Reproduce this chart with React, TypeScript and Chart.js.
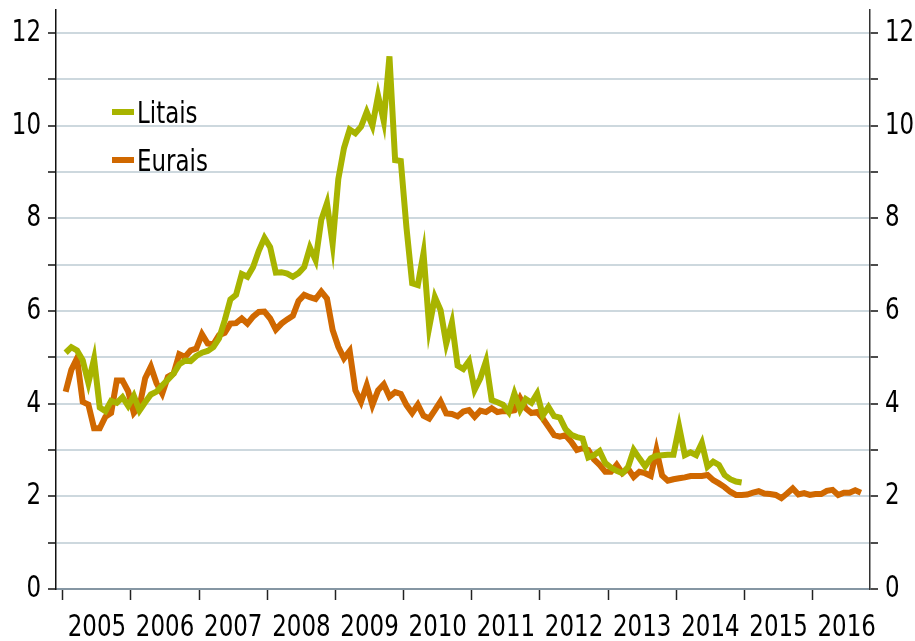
import React, { useEffect, useRef } from "react";
import { Chart, registerables } from "chart.js";

Chart.register(...registerables);

// Monthly data, first value = January 2005
const yearLabels = ["2005", "2006", "2007", "2008", "2009", "2010", "2011", "2012", "2013", "2014", "2015", "2016"];

const litais = [
  5.10, 5.22, 5.15, 4.94, 4.45, 4.97, 3.92, 3.84, 4.06, 4.02, 4.14, 3.95,
  4.17, 3.85, 4.03, 4.20, 4.26, 4.40, 4.52, 4.65, 4.85, 4.93, 4.92, 5.03,
  5.10, 5.14, 5.22, 5.41, 5.80, 6.25, 6.35, 6.80, 6.74, 6.95, 7.30, 7.58,
  7.38, 6.83, 6.84, 6.81, 6.74, 6.82, 6.95, 7.37, 7.10, 7.97, 8.33, 7.45,
  8.85, 9.52, 9.92, 9.84, 9.98, 10.30, 10.00, 10.65, 10.10, 11.50, 9.26, 9.24,
  7.80, 6.60, 6.56, 7.25, 5.65, 6.30, 6.02, 5.30, 5.75, 4.82, 4.75, 4.92,
  4.30, 4.55, 4.92, 4.08, 4.03, 3.98, 3.82, 4.22, 3.87, 4.10, 4.02, 4.22,
  3.75, 3.93, 3.73, 3.70, 3.45, 3.33, 3.28, 3.25, 2.84, 2.89, 2.98, 2.72,
  2.62, 2.55, 2.50, 2.63, 3.00, 2.82, 2.65, 2.82, 2.88, 2.89, 2.90, 2.90,
  3.50, 2.89, 2.95, 2.89, 3.15, 2.64, 2.75, 2.68, 2.46, 2.37, 2.32, 2.30,
];

const eurais = [
  4.26, 4.73, 4.98, 4.04, 3.98, 3.47, 3.47, 3.72, 3.80, 4.50, 4.50, 4.27,
  3.80, 3.94, 4.55, 4.80, 4.44, 4.22, 4.58, 4.65, 5.07, 5.01, 5.15, 5.19,
  5.50, 5.30, 5.28, 5.48, 5.53, 5.73, 5.74, 5.84, 5.73, 5.88, 5.98, 5.99,
  5.84, 5.60, 5.73, 5.82, 5.90, 6.22, 6.35, 6.30, 6.26, 6.42, 6.27, 5.59,
  5.23, 4.98, 5.14, 4.29, 4.04, 4.40, 3.97, 4.29, 4.42, 4.15, 4.25, 4.21,
  3.97, 3.80, 3.98, 3.74, 3.68, 3.86, 4.05, 3.79, 3.78, 3.73, 3.83, 3.86,
  3.72, 3.85, 3.82, 3.90, 3.82, 3.84, 3.84, 3.86, 4.12, 3.90, 3.80, 3.82,
  3.68, 3.50, 3.32, 3.29, 3.32, 3.18, 3.00, 3.04, 3.00, 2.80, 2.68, 2.53,
  2.53, 2.68, 2.50, 2.60, 2.42, 2.53, 2.50, 2.44, 3.00, 2.45, 2.34, 2.37,
  2.39, 2.41, 2.44, 2.44, 2.44, 2.46, 2.35, 2.28, 2.20, 2.10, 2.03, 2.03,
  2.04, 2.08, 2.11, 2.06, 2.05, 2.03, 1.96, 2.06, 2.17, 2.04, 2.07, 2.03,
  2.05, 2.05, 2.12, 2.14, 2.03, 2.08, 2.08, 2.13, 2.08,
];

const seriesNames = ["Litais", "Eurais"];
const seriesColors = ["#A8B400", "#D06800"];
const yTickValues = [0, 1, 2, 3, 4, 5, 6, 7, 8, 9, 10, 11, 12];

const FONT_FAMILY = '"DejaVu Sans", Verdana, sans-serif';
const FONT_SIZE = 31;
const TEXT_SCALE_X = 0.74; // horizontally compressed lettering, as in the original

// Draws all chart text horizontally compressed around its anchor point
const narrowText = {
  id: "narrowText",
  beforeDraw(chart: any) {
    const ctx = chart.ctx;
    if (ctx.__origFillText) return;
    const orig = ctx.fillText;
    ctx.__origFillText = orig;
    ctx.fillText = function (text: string, x: number, y: number, maxWidth?: number) {
      this.save();
      this.translate(x, y);
      this.scale(TEXT_SCALE_X, 1);
      if (maxWidth !== undefined && maxWidth !== null) orig.call(this, text, 0, 0, maxWidth / TEXT_SCALE_X);
      else orig.call(this, text, 0, 0);
      this.restore();
    };
  },
  afterDraw(chart: any) {
    const ctx = chart.ctx;
    if (ctx.__origFillText) {
      ctx.fillText = ctx.__origFillText;
      delete ctx.__origFillText;
    }
  },
};

const insideLegend = {
  id: "insideLegend",
  afterDatasetsDraw(chart: any) {
    const ctx = chart.ctx;
    ctx.save();
    chart.data.datasets.forEach((ds: any, k: number) => {
      const y = 112 + k * 48;
      ctx.strokeStyle = ds.borderColor;
      ctx.lineWidth = 6;
      ctx.lineCap = "butt";
      ctx.beginPath();
      ctx.moveTo(112, y);
      ctx.lineTo(134, y);
      ctx.stroke();
      ctx.fillStyle = "#000";
      ctx.font = `${FONT_SIZE}px ${FONT_FAMILY}`;
      ctx.textAlign = "left";
      ctx.textBaseline = "alphabetic";
      ctx.fillText(ds.label, 137, y + 11);
    });
    ctx.restore();
  },
};

const toPoints = (arr: number[]) => arr.map((v, i) => ({ x: i, y: v }));

export default function App() {
  const canvasRef = useRef<HTMLCanvasElement | null>(null);

  useEffect(() => {
    if (!canvasRef.current) return;
    const isMark = (v: number) => (v + 0.5) % 12 === 0;
    const yAxisCommon = (side: "left" | "right") => ({
      type: "linear" as const,
      position: side,
      min: 0,
      max: 12.5,
      afterBuildTicks: (s: any) => {
        s.ticks = yTickValues.map((v) => ({ value: v }));
      },
      afterFit: (s: any) => {
        s.width = side === "left" ? 56 : 45;
        s.paddingTop = 0;
        s.paddingBottom = 0;
      },
      ticks: {
        autoSkip: false,
        padding: 7,
        color: "#000",
        font: { family: FONT_FAMILY, size: FONT_SIZE },
        callback: (v: any) => (Number(v) % 2 === 0 ? String(v) : ""),
      },
      grid: {
        display: true,
        drawOnChartArea: side === "left",
        color: "#CDD8DE",
        lineWidth: 2,
        drawTicks: true,
        tickLength: 8,
        tickColor: "#111",
        tickWidth: 1.5,
      },
      border: { display: true, color: side === "left" ? "#111" : "#333", width: 1.5 },
    });

    const chart = new Chart(canvasRef.current, {
      type: "line",
      data: {
        datasets: [
          {
            label: seriesNames[0],
            data: toPoints(litais),
            borderColor: seriesColors[0],
            backgroundColor: seriesColors[0],
            borderWidth: 6,
            pointRadius: 0,
            tension: 0,
            fill: false,
          },
          {
            label: seriesNames[1],
            data: toPoints(eurais),
            borderColor: seriesColors[1],
            backgroundColor: seriesColors[1],
            borderWidth: 6,
            pointRadius: 0,
            tension: 0,
            fill: false,
          },
        ],
      },
      options: {
        responsive: false,
        maintainAspectRatio: false,
        animation: false,
        layout: { padding: { top: 10, left: 0, right: 0, bottom: 0 } },
        plugins: { legend: { display: false }, tooltip: { enabled: false } },
        scales: {
          x: {
            type: "linear",
            min: -1.7,
            max: 141.6,
            afterBuildTicks: (s: any) => {
              const t: { value: number }[] = [];
              yearLabels.forEach((_, k) => {
                t.push({ value: 12 * k - 0.5 });
                t.push({ value: 12 * k + 5.5 });
              });
              s.ticks = t;
            },
            afterFit: (s: any) => {
              s.height = 52;
              s.paddingLeft = 0;
              s.paddingRight = 0;
            },
            ticks: {
              autoSkip: false,
              maxRotation: 0,
              minRotation: 0,
              padding: 9,
              color: "#000",
              font: { family: FONT_FAMILY, size: FONT_SIZE },
              callback: (v: any) => {
                const r = (Number(v) - 5.5) / 12;
                return Number.isInteger(r) && yearLabels[r] ? yearLabels[r] : "";
              },
            },
            grid: {
              display: true,
              drawOnChartArea: false,
              drawTicks: true,
              tickLength: 11,
              tickWidth: 1.5,
              tickColor: (ctx: any) => (ctx.tick && isMark(ctx.tick.value) ? "#222" : "rgba(0,0,0,0)"),
            },
            border: { display: true, color: "#8596A3", width: 2 },
          },
          y: yAxisCommon("left"),
          y2: yAxisCommon("right"),
        },
      },
      plugins: [narrowText, insideLegend],
    } as any);
    return () => chart.destroy();
  }, []);

  return (
    <div style={{ position: "fixed", left: 0, top: 0, width: 915, height: 641, background: "#fff" }}>
      <canvas ref={canvasRef} width={915} height={641} style={{ display: "block" }} />
    </div>
  );
}
